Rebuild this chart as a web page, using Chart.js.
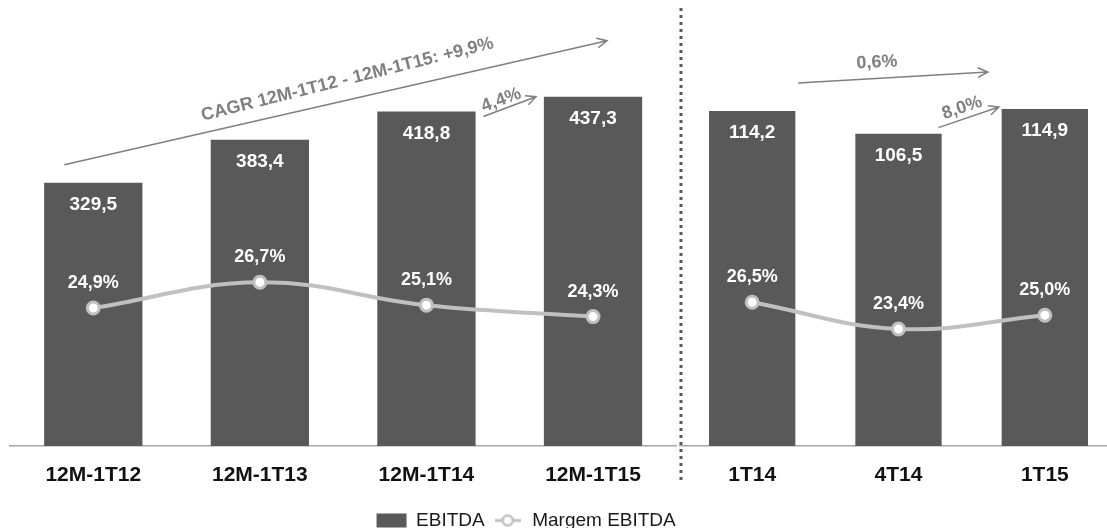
<!DOCTYPE html>
<html>
<head>
<meta charset="utf-8">
<script src="https://cdn.jsdelivr.net/npm/chart.js@4.4.1/dist/chart.umd.min.js"></script>
<style>
  html, body { margin: 0; padding: 0; background: #fff; overflow: hidden; }
  #wrap { position: relative; width: 1107px; height: 528px; overflow: hidden; }
  canvas { position: absolute; top: 0; }
  #left { left: 0; }
  #right { left: 679px; }
</style>
</head>
<body>
<div id="wrap">
  <canvas id="right" width="439" height="540"></canvas>
  <canvas id="left" width="681" height="540"></canvas>
</div>
<script>
// data
var periodsLeft = ['12M-1T12', '12M-1T13', '12M-1T14', '12M-1T15'];
var ebitdaLeft = [329.5, 383.4, 418.8, 437.3];
var marginLeft = [24.9, 26.7, 25.1, 24.3];

var quartersRight = ['1T14', '4T14', '1T15'];
var ebitdaRight = [114.2, 106.5, 114.9];
var marginRight = [26.5, 23.4, 25.0];

var growthLeft = ['CAGR 12M-1T12 - 12M-1T15: +9,9%', '4,4%'];
var growthRight = ['0,6%', '8,0%'];

var seriesNames = ['EBITDA', 'Margem EBITDA'];

var FONT = "'Liberation Sans', Arial, sans-serif";
Chart.defaults.font.family = FONT;

var BAR = '#595959';
var LINE = '#c0c0c0';
var NOTE = '#7f7f7f';

function fmt(v) {
  return v.toFixed(1).replace('.', ',');
}

// small line+dot marker for the legend
var marker = document.createElement('canvas');
marker.width = 26; marker.height = 14;
(function() {
  var c = marker.getContext('2d');
  c.strokeStyle = LINE; c.lineWidth = 3;
  c.beginPath(); c.moveTo(0, 7); c.lineTo(26, 7); c.stroke();
  c.fillStyle = '#fff'; c.lineWidth = 2.5;
  c.beginPath(); c.arc(13, 7, 5, 0, Math.PI * 2); c.fill(); c.stroke();
})();

// value labels and growth arrows
function labelsPlugin(arrows) {
  return {
    id: 'labels',
    afterDatasetsDraw: function(chart) {
      var ctx = chart.ctx;
      var bars = chart.getDatasetMeta(0).data;
      var dots = chart.getDatasetMeta(1).data;
      var ds = chart.data.datasets;
      ctx.save();
      ctx.fillStyle = '#fff';
      ctx.textAlign = 'center';
      ctx.textBaseline = 'middle';
      ctx.font = 'bold 19px ' + FONT;
      bars.forEach(function(b, i) {
        ctx.fillText(fmt(ds[0].data[i]), b.x, b.y + 22);
      });
      ctx.font = 'bold 18px ' + FONT;
      dots.forEach(function(p, i) {
        ctx.fillText(fmt(ds[1].data[i]) + '%', p.x, p.y - 25);
      });

      ctx.strokeStyle = NOTE;
      ctx.fillStyle = NOTE;
      ctx.lineWidth = 1.5;
      arrows.forEach(function(a) {
        var b0 = bars[a.from], b1 = bars[a.to];
        var x0 = b0.x + a.d0[0], y0 = b0.y + a.d0[1];
        var x1 = b1.x + a.d1[0], y1 = b1.y + a.d1[1];
        var ang = Math.atan2(y1 - y0, x1 - x0);
        ctx.beginPath();
        ctx.moveTo(x0, y0);
        ctx.lineTo(x1, y1);
        ctx.moveTo(x1 - 11 * Math.cos(ang - 0.45), y1 - 11 * Math.sin(ang - 0.45));
        ctx.lineTo(x1, y1);
        ctx.lineTo(x1 - 11 * Math.cos(ang + 0.45), y1 - 11 * Math.sin(ang + 0.45));
        ctx.stroke();
        var tx = x0 + (x1 - x0) * a.t + Math.sin(ang) * a.off;
        var ty = y0 + (y1 - y0) * a.t - Math.cos(ang) * a.off;
        ctx.save();
        ctx.translate(tx, ty);
        ctx.rotate(ang + (a.rot || 0));
        ctx.font = 'bold 18px ' + FONT;
        ctx.fillText(a.text, 0, 0);
        ctx.restore();
      });
      ctx.restore();
    }
  };
}

function datasets(values, margins) {
  return [{
    type: 'bar',
    label: seriesNames[0],
    data: values,
    backgroundColor: BAR,
    barPercentage: 0.59,
    categoryPercentage: 1,
    yAxisID: 'y',
    order: 2
  }, {
    type: 'line',
    label: seriesNames[1],
    data: margins,
    borderColor: LINE,
    borderWidth: 4,
    tension: 0.4,
    pointRadius: 6,
    pointBorderWidth: 3,
    pointBackgroundColor: '#fff',
    pointBorderColor: LINE,
    yAxisID: 'y1',
    order: 1
  }];
}

function xAxis(h) {
  return {
    grid: { display: false, drawTicks: false },
    border: { color: '#a6a6a6', width: 1.5 },
    ticks: { color: '#111', padding: 17, font: { size: 21, weight: 'bold' } },
    afterFit: function(s) { s.height = h; }
  };
}

new Chart(document.getElementById('left'), {
  data: { labels: periodsLeft, datasets: datasets(ebitdaLeft, marginLeft) },
  options: {
    responsive: false,
    animation: false,
    layout: { autoPadding: false, padding: { left: 10, right: 4.7, top: 0, bottom: 0 } },
    scales: {
      x: xAxis(57),
      y: { display: false, min: 0, max: 558.4 },
      y1: { display: false, min: 15.25, max: 46.44 }
    },
    plugins: {
      tooltip: { enabled: false },
      legend: {
        position: 'bottom',
        labels: {
          usePointStyle: true,
          pointStyleWidth: 30,
          boxHeight: 14,
          padding: 8,
          color: '#1a1a1a',
          font: { size: 19 },
          generateLabels: function(chart) {
            var items = Chart.defaults.plugins.legend.labels.generateLabels(chart);
            items.sort(function(a, b) { return a.datasetIndex - b.datasetIndex; });
            items[0].pointStyle = 'rect';
            items[1].pointStyle = marker;
            return items;
          }
        }
      }
    }
  },
  plugins: [
    labelsPlugin([
      { text: growthLeft[0], from: 0, to: 3, d0: [-29, -18], d1: [14, -56], t: 0.53, off: 20, rot: -0.02 },
      { text: growthLeft[1], from: 2, to: 3, d0: [57, 5], d1: [-57, 0], t: 0.4, off: 9 }
    ]),
    {
      id: 'legendShift',
      afterLayout: function(chart) {
        chart.legend.left += 183;
        chart.legend.right += 183;
      }
    }
  ]
});

new Chart(document.getElementById('right'), {
  data: { labels: quartersRight, datasets: datasets(ebitdaRight, marginRight) },
  options: {
    responsive: false,
    animation: false,
    layout: { autoPadding: false, padding: 0 },
    scales: {
      x: xAxis(94),
      y: { display: false, min: 0, max: 152.06 },
      y1: { display: false, min: 9.81, max: 61.6 }
    },
    plugins: {
      tooltip: { enabled: false },
      legend: { display: false }
    }
  },
  plugins: [
    labelsPlugin([
      { text: growthRight[0], from: 0, to: 2, d0: [46, -28], d1: [-57, -37], t: 0.42, off: 16 },
      { text: growthRight[1], from: 1, to: 2, d0: [40, -6], d1: [-46, -2], t: 0.45, off: 11 }
    ]),
    {
      id: 'separator',
      beforeDatasetsDraw: function(chart) {
        var ctx = chart.ctx, a = chart.chartArea;
        ctx.save();
        ctx.strokeStyle = BAR;
        ctx.lineWidth = 3;
        ctx.setLineDash([3, 4]);
        ctx.beginPath();
        ctx.moveTo(a.left + 2, a.top + 8);
        ctx.lineTo(a.left + 2, a.bottom + 36);
        ctx.stroke();
        ctx.restore();
      }
    }
  ]
});
</script>
</body>
</html>
